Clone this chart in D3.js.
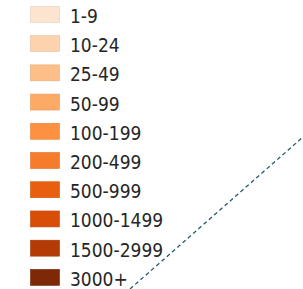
<!DOCTYPE html>
<html>
<head>
<meta charset="utf-8">
<script src="https://cdn.jsdelivr.net/npm/d3@7"></script>
<style>
  html, body { margin: 0; padding: 0; background: #fff; }
  svg { display: block; }
</style>
</head>
<body>
<script>
var width = 303, height = 289;

// legend classes
var labels = ["1-9", "10-24", "25-49", "50-99", "100-199", "200-499",
              "500-999", "1000-1499", "1500-2999", "3000+"];
var colours = ["#fde4cf", "#fdd3ae", "#fdbf87", "#fdaa66", "#fd9141", "#f57c2a",
               "#e8600f", "#d84e08", "#b43b05", "#7e2806"];

// the dashed boundary line (map units)
var lineX = [0, 1];
var lineY = [0, 1];

var svg = d3.select("body").append("svg")
    .attr("width", width)
    .attr("height", height);

var y = d3.scaleBand()
    .domain(d3.range(labels.length))
    .range([-0.2, 292])
    .paddingInner(0.42)
    .paddingOuter(0.21);

var lx = d3.scaleLinear().domain([0, 1]).range([130, 303]);
var ly = d3.scaleLinear().domain([0, 1]).range([289, 137]);

svg.append("path")
    .datum(d3.zip(lineX, lineY))
    .attr("d", d3.line().x(function(d) { return lx(d[0]); }).y(function(d) { return ly(d[1]); }))
    .attr("fill", "none")
    .attr("stroke", "#1f5d6e")
    .attr("stroke-width", 1.3)
    .attr("stroke-dasharray", "4,3");

var row = svg.append("g").selectAll("g")
    .data(labels)
  .enter().append("g")
    .attr("transform", function(d, i) { return "translate(0," + y(i) + ")"; });

row.append("rect")
    .attr("x", 30.5)
    .attr("y", 0.5)
    .attr("width", 29)
    .attr("height", y.bandwidth() - 1)
    .attr("fill", function(d, i) { return colours[i]; })
    .attr("stroke", function(d, i) { return d3.color(colours[i]).darker(0.3); })
    .attr("stroke-width", 0.6);

row.append("text")
    .attr("x", 70)
    .attr("y", y.bandwidth() / 2 + 1.5)
    .attr("dominant-baseline", "central")
    .attr("font-family", "DejaVu Sans Condensed")
    .attr("font-size", 19)
    .attr("fill", "#262626")
    .text(function(d) { return d; });
</script>
</body>
</html>
